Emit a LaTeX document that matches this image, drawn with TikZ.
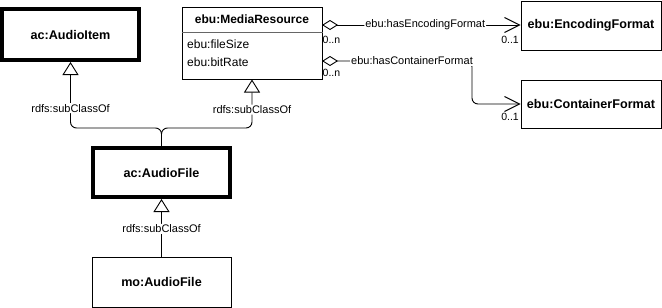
\documentclass[tikz,border=0pt]{standalone}
\usepackage{fontspec}
\setmainfont{Liberation Sans}
\usetikzlibrary{arrows.meta}
\begin{document}
\begin{tikzpicture}[x=1pt,y=-1pt,
  cls/.style={draw=black, line width=1pt, fill=white, inner sep=0pt, font=\fontsize{12.6}{15}\selectfont\bfseries},
  clsthick/.style={cls, line width=4pt},
  lbl/.style={fill=white, inner sep=1pt, font=\fontsize{11}{13}\selectfont},
  mult/.style={inner sep=0pt, font=\fontsize{10.5}{12}\selectfont},
  attr/.style={inner sep=0pt, anchor=west, font=\fontsize{12}{14}\selectfont},
  subc/.style={draw=black, line width=0.9pt, rounded corners=6pt,
    -{Triangle[open, length=13pt, width=16pt, fill=white]}},
  assoc/.style={draw=black, line width=0.9pt, rounded corners=6pt,
    {Diamond[open, length=16pt, width=10pt, fill=white]}-{Straight Barb[length=15pt, width=15pt]}}
]
\useasboundingbox (0,0) rectangle (662,308);

% classes
\node[clsthick, minimum width=137pt, minimum height=51pt] (audioitem) at (70.5,34.5) {ac:AudioItem};
\node[cls, minimum width=140pt, minimum height=72pt] (media) at (252,43) {};
\node[inner sep=0pt, font=\fontsize{12}{14}\selectfont\bfseries] (mediatitle) at (252,19.5) {ebu:MediaResource};
\draw[line width=0.6pt, black!60] (media.west |- 0,32) -- (media.east |- 0,32);
\node[attr] (fsize) at (187,44) {ebu:fileSize};
\node[attr] (brate) at (187,62) {ebu:bitRate};
\node[cls, minimum width=140pt, minimum height=49pt] (encoding) at (591,25.5) {ebu:EncodingFormat};
\node[cls, minimum width=140pt, minimum height=48pt] (container) at (591,104) {ebu:ContainerFormat};
\node[clsthick, minimum width=137pt, minimum height=49pt] (acfile) at (161.5,172.5) {ac:AudioFile};
\node[cls, minimum width=139pt, minimum height=50pt] (mofile) at (161.5,282) {mo:AudioFile};

% helper points
\coordinate (join) at (161.5,128);
\coordinate (encstart) at (322,25);
\coordinate (constart) at (322,61);
\coordinate (conbend) at (472,61);

% subclass links
\draw[subc] (acfile.north) -- (join) -| node[lbl, pos=0.65] (l1) {rdfs:subClassOf} (audioitem.south);
\draw[subc] (acfile.north) -- (join) -| node[lbl, pos=0.69] (l2) {rdfs:subClassOf} (media.south);
\draw[subc] (mofile.north) -- node[lbl, pos=0.48] (l3) {rdfs:subClassOf} (acfile.south);

% associations
\draw[assoc] (encstart) -- node[lbl, pos=0.52] (l4) {ebu:hasEncodingFormat} (encoding.west |- encstart);
\draw[assoc] (constart) -- (conbend) |- (container.west);
\node[lbl] (l5) at (412,61) {ebu:hasContainerFormat};

% multiplicities
\node[mult, anchor=west] (m1) at (322.5,40) {0..n};
\node[mult, anchor=east] (m2) at (519,40) {0..1};
\node[mult, anchor=west] (m3) at (322.5,73) {0..n};
\node[mult, anchor=east] (m4) at (519,117) {0..1};
\end{tikzpicture}
\end{document}
